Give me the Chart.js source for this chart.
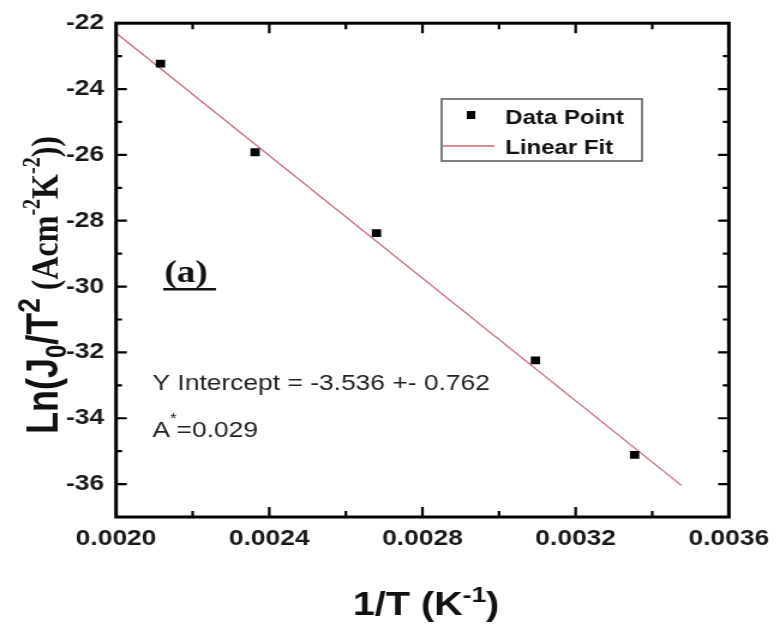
<!DOCTYPE html>
<html>
<head>
<meta charset="utf-8">
<script src="https://cdn.jsdelivr.net/npm/chart.js@4.4.1/dist/chart.umd.min.js"></script>
<style>
	body { margin: 0; background: #fff; }
	#wrap { width: 650px; height: 635px; transform: scaleX(1.2); transform-origin: 0 0; }
</style>
</head>
<body>
<div id="wrap"><canvas id="chart" width="650" height="635"></canvas></div>
<script>
// measured points: 1/T (K^-1) vs Ln(J0/T^2)
const inv_t = [0.002116, 0.002363, 0.00268, 0.003095, 0.003354];
const ln_j = [-23.23, -25.92, -28.38, -32.24, -35.11];

// end points of the linear fit
const fit_x = [0.0020, 0.003476];
const fit_y = [-22.3, -36.04];

const x_ticks = [0.0020, 0.0024, 0.0028, 0.0032, 0.0036];
const y_ticks = [-22, -24, -26, -28, -30, -32, -34, -36];

const sans = "'Liberation Sans', Arial, sans-serif";
const serif = "'Liberation Serif', 'Times New Roman', serif";
const fit_color = "#c96a78";

function to_points(xs, ys) {
	let pts = [];
	for (let i = 0; i < xs.length; i++) {
		pts.push({ x: xs[i], y: ys[i] });
	}
	return pts;
}

// draws text made of pieces with their own font and vertical shift
function draw_rich(ctx, parts, x, y, align) {
	let total = 0;
	for (const p of parts) {
		ctx.font = p.font;
		total += ctx.measureText(p.text).width;
	}
	let cx = align == "center" ? x - total / 2 : x;
	ctx.textAlign = "left";
	ctx.textBaseline = "alphabetic";
	for (const p of parts) {
		ctx.font = p.font;
		ctx.fillText(p.text, cx, y + (p.dy || 0));
		cx += ctx.measureText(p.text).width;
	}
}

const frame_plugin = {
	id: "frame",
	afterDraw(chart) {
		const ctx = chart.ctx;
		const area = chart.chartArea;
		const xs = chart.scales.x;
		const ys = chart.scales.y;
		ctx.save();

		// box round the plot
		ctx.strokeStyle = "#000";
		ctx.lineWidth = 3;
		ctx.strokeRect(area.left, area.top, area.right - area.left, area.bottom - area.top);

		// inward ticks on all four sides
		ctx.lineWidth = 2.2;
		ctx.beginPath();
		for (let i = 1; i < 8; i++) {
			const v = 0.0020 + i * 0.0002;
			const px = xs.getPixelForValue(v);
			const len = i % 2 == 0 ? 10 : 6;
			ctx.moveTo(px, area.bottom);
			ctx.lineTo(px, area.bottom - len);
			ctx.moveTo(px, area.top);
			ctx.lineTo(px, area.top + len);
		}
		for (let v = -36; v < -22; v++) {
			const py = ys.getPixelForValue(v);
			const len = v % 2 == 0 ? 9 : 5;
			ctx.moveTo(area.left, py);
			ctx.lineTo(area.left + len, py);
			ctx.moveTo(area.right, py);
			ctx.lineTo(area.right - len, py);
		}
		ctx.stroke();

		// legend
		ctx.strokeStyle = "#555";
		ctx.lineWidth = 1.5;
		ctx.strokeRect(368, 99, 167, 62);
		ctx.fillStyle = "#000";
		ctx.fillRect(389, 111, 7, 8);
		ctx.strokeStyle = fit_color;
		ctx.lineWidth = 1.3;
		ctx.beginPath();
		ctx.moveTo(369, 146);
		ctx.lineTo(412, 146);
		ctx.stroke();
		ctx.fillStyle = "#111";
		ctx.font = "bold 20px " + sans;
		ctx.textAlign = "left";
		ctx.textBaseline = "alphabetic";
		ctx.fillText("Data Point", 421, 124);
		ctx.fillText("Linear Fit", 421, 154);

		// panel label
		ctx.fillStyle = "#111";
		ctx.font = "bold 31px " + serif;
		ctx.fillText("(a)", 137, 282);
		ctx.fillRect(136, 288, 44, 2.5);

		// fit results
		ctx.fillStyle = "#222";
		ctx.font = "22px " + sans;
		ctx.fillText("Y Intercept = -3.536 +- 0.762", 127, 390);
		draw_rich(ctx, [
			{ text: "A", font: "22px " + sans },
			{ text: "*", font: "14px " + sans, dy: -14 },
			{ text: "=0.029", font: "22px " + sans },
		], 127, 437, "left");

		// axis titles
		ctx.fillStyle = "#111";
		draw_rich(ctx, [
			{ text: "1/T (K", font: "bold 33px " + sans },
			{ text: "-1", font: "bold 22px " + sans, dy: -13 },
			{ text: ")", font: "bold 33px " + sans },
		], 355, 615, "center");

		ctx.translate(48, 285);
		ctx.rotate(-Math.PI / 2);
		draw_rich(ctx, [
			{ text: "Ln(J", font: "bold 36px " + sans },
			{ text: "0", font: "bold 24px " + sans, dy: 7 },
			{ text: "/T", font: "bold 36px " + sans },
			{ text: "2", font: "bold 26px " + sans, dy: -15 },
			{ text: " (Acm", font: "bold 32px " + serif },
			{ text: "-2", font: "bold 20px " + serif, dy: -15 },
			{ text: "K", font: "bold 32px " + serif },
			{ text: "-2", font: "bold 20px " + serif, dy: -15 },
			{ text: "))", font: "bold 32px " + serif },
		], 0, 0, "center");

		ctx.restore();
	},
};

const ctx = document.getElementById("chart").getContext("2d");

const my_chart = new Chart(ctx, {
	type: "scatter",
	data: {
		datasets: [
			{
				label: "Data Point",
				data: to_points(inv_t, ln_j),
				pointStyle: "rect",
				pointRadius: 5.5,
				backgroundColor: "#000",
				borderWidth: 0,
			},
			{
				label: "Linear Fit",
				data: to_points(fit_x, fit_y),
				showLine: true,
				pointRadius: 0,
				borderColor: fit_color,
				borderWidth: 1.3,
			},
		],
	},
	options: {
		responsive: false,
		animation: false,
		layout: {
			padding: { left: 0, right: 36, top: 16, bottom: 0 },
		},
		plugins: {
			legend: { display: false },
			tooltip: { enabled: false },
		},
		scales: {
			x: {
				type: "linear",
				min: 0.0020,
				max: 0.0036,
				grid: { display: false, drawTicks: false },
				border: { display: false },
				afterBuildTicks: (scale) => {
					scale.ticks = x_ticks.map((v) => ({ value: v }));
				},
				afterFit: (scale) => {
					scale.height = 118;
				},
				ticks: {
					padding: 9,
					color: "#1a1a1a",
					font: { family: sans, size: 22, weight: "bold" },
					callback: (v) => v.toFixed(4),
				},
			},
			y: {
				type: "linear",
				min: -37,
				max: -22,
				grid: { display: false, drawTicks: false },
				border: { display: false },
				afterBuildTicks: (scale) => {
					scale.ticks = y_ticks.map((v) => ({ value: v }));
				},
				afterFit: (scale) => {
					scale.width = 96.7;
				},
				ticks: {
					padding: 10,
					color: "#1a1a1a",
					font: { family: sans, size: 22, weight: "bold" },
				},
			},
		},
	},
	plugins: [frame_plugin],
});
</script>
</body>
</html>
